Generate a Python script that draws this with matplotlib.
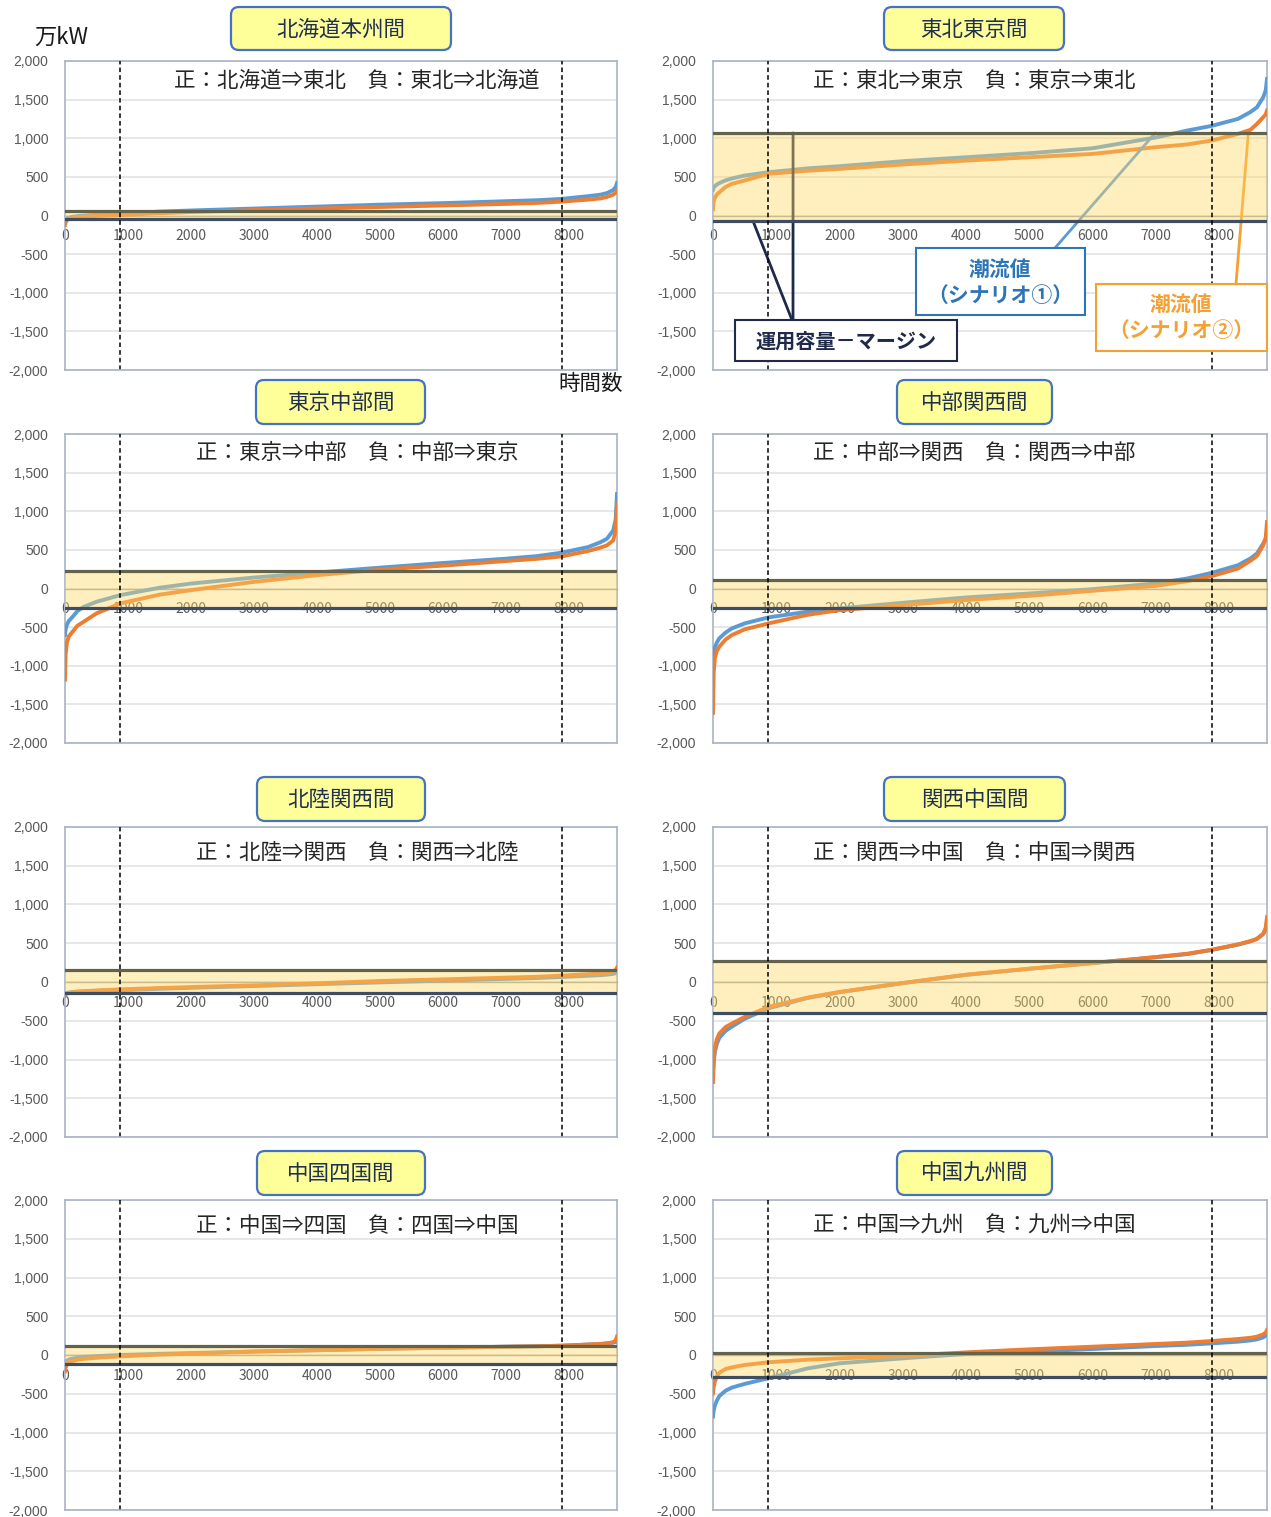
import matplotlib
matplotlib.use('Agg')
import matplotlib.pyplot as plt
from matplotlib.patches import FancyBboxPatch, Rectangle
from matplotlib.transforms import IdentityTransform

plt.rcParams['font.family'] = ['Noto Sans CJK JP', 'DejaVu Sans']

W, H = 1271, 1517

# ---------------- data ----------------
hours = [0, 10, 30, 60, 100, 200, 300, 500, 876, 1500, 2000, 3000, 4000, 5000, 6000, 7000,
         7500, 7884, 8300, 8500, 8600, 8700, 8740, 8760]

titles = ['北海道本州間', '東北東京間', '東京中部間', '中部関西間',
          '北陸関西間', '関西中国間', '中国四国間', '中国九州間']
directions = ['正：北海道⇒東北　負：東北⇒北海道',
              '正：東北⇒東京　負：東京⇒東北',
              '正：東京⇒中部　負：中部⇒東京',
              '正：中部⇒関西　負：関西⇒中部',
              '正：北陸⇒関西　負：関西⇒北陸',
              '正：関西⇒中国　負：中国⇒関西',
              '正：中国⇒四国　負：四国⇒中国',
              '正：中国⇒九州　負：九州⇒中国']

# scenario 1 (blue) and scenario 2 (orange) sorted flow duration curves, 万kW
s1_hokkaido = [-100, -70, -45, -30, -20, -8, 0, 10, 25, 50, 65, 90, 115, 140, 160, 185,
               198, 215, 250, 270, 290, 330, 370, 420]
s2_hokkaido = [-120, -85, -60, -45, -35, -22, -15, -5, 5, 30, 45, 70, 90, 110, 130, 150,
               163, 180, 205, 222, 240, 270, 295, 320]
s1_tohoku = [330, 360, 380, 400, 420, 455, 480, 517, 560, 610, 638, 703, 754, 806, 870, 1010,
             1100, 1160, 1250, 1340, 1400, 1530, 1620, 1767]
s2_tohoku = [80, 180, 230, 270, 300, 370, 410, 453, 539, 580, 603, 660, 711, 754, 797, 884,
             920, 970, 1056, 1110, 1185, 1272, 1310, 1358]
s1_tokyo = [-600, -530, -470, -420, -386, -290, -236, -172, -86, 10, 64, 142, 206, 270, 330, 386,
            420, 464, 536, 600, 644, 751, 900, 1223]
s2_tokyo = [-1180, -850, -700, -620, -580, -480, -429, -322, -193, -80, -21, 86, 172, 245, 296, 356,
            385, 416, 485, 530, 558, 622, 750, 1094]
s1_chubu = [-880, -820, -760, -700, -645, -570, -516, -452, -374, -300, -258, -185, -116, -65, -9, 65,
            130, 202, 301, 390, 452, 581, 640, 710]
s2_chubu = [-1610, -1100, -900, -810, -753, -660, -602, -529, -452, -340, -280, -215, -150, -95, -30, 34,
            95, 159, 258, 360, 421, 559, 660, 860]
s1_hokuriku = [-150, -146, -140, -135, -130, -124, -120, -113, -105, -88, -75, -52, -28, -5, 18, 40,
               52, 65, 80, 88, 95, 105, 115, 135]
s2_hokuriku = [-170, -160, -150, -142, -135, -125, -118, -110, -95, -78, -65, -43, -17, 13, 34, 56,
               68, 82, 100, 110, 120, 140, 155, 185]
s1_kansai = [-1200, -1050, -900, -800, -720, -630, -575, -475, -340, -205, -132, -15, 92, 170, 243, 320,
             360, 413, 482, 525, 555, 618, 680, 780]
s2_kansai = [-1290, -1000, -850, -740, -665, -580, -536, -451, -322, -200, -129, -13, 94, 172, 245, 322,
             365, 416, 485, 528, 558, 622, 700, 837]
s1_shikoku = [-110, -95, -75, -60, -50, -35, -25, -15, 0, 15, 25, 45, 62, 80, 93, 107,
              113, 120, 135, 142, 150, 160, 168, 180]
s2_shikoku = [-210, -160, -120, -95, -80, -62, -50, -36, -18, 5, 18, 44, 62, 80, 93, 107,
              113, 120, 135, 143, 150, 165, 190, 240]
s1_kyushu = [-794, -720, -650, -590, -530, -460, -420, -373, -300, -172, -107, -43, 13, 43, 77, 116,
             132, 150, 172, 188, 202, 227, 250, 279]
s2_kyushu = [-494, -420, -340, -280, -230, -180, -160, -129, -94, -60, -43, -13, 34, 73, 107, 142,
             160, 180, 206, 222, 236, 266, 290, 322]

scenario1 = [s1_hokkaido, s1_tohoku, s1_tokyo, s1_chubu, s1_hokuriku, s1_kansai, s1_shikoku, s1_kyushu]
scenario2 = [s2_hokkaido, s2_tohoku, s2_tokyo, s2_chubu, s2_hokuriku, s2_kansai, s2_shikoku, s2_kyushu]

# operating capacity minus margin (positive / negative direction)
cap_pos = [60, 1068, 232, 116, 151, 267, 121, 25]
cap_neg = [-40, -72, -250, -258, -138, -400, -120, -288]

pct10, pct90 = 876, 7884

yticks = [2000, 1500, 1000, 500, 0, -500, -1000, -1500, -2000]
ytick_labels = ['2,000', '1,500', '1,000', '500', '0', '-500', '-1,000', '-1,500', '-2,000']
xticks = [0, 1000, 2000, 3000, 4000, 5000, 6000, 7000, 8000]
xtick_labels = ['0', '1000', '2000', '3000', '4000', '5000', '6000', '7000', '8000']

# ---------------- layout ----------------
BLUE = '#5B9BD5'
ORANGE = '#ED7D31'
cols = [(65, 617), (713, 1267)]
rows = [(61, 370), (434, 743), (827, 1137), (1200, 1510)]
inner_x = [0.529, 0.471]
inner_y = [0.935, 0.937, 0.916, 0.916]
title_boxes = [(231, 451, 7, 50), (884, 1064, 7, 50),
               (256, 425, 380, 424), (897, 1052, 380, 424),
               (257, 425, 777, 821), (884, 1065, 777, 821),
               (257, 425, 1151, 1195), (897, 1052, 1151, 1195)]

fig = plt.figure(figsize=(W / 100, H / 100), dpi=100)
fig.patch.set_facecolor('white')

axes = []
for i in range(8):
    r, c = divmod(i, 2)
    x0, x1 = cols[c]
    y0, y1 = rows[r]
    ax = fig.add_axes([x0 / W, 1 - y1 / H, (x1 - x0) / W, (y1 - y0) / H])
    axes.append(ax)
    ax.set_xlim(0, 8760)
    ax.set_ylim(-2000, 2000)
    ax.set_yticks(yticks)
    ax.set_yticklabels(ytick_labels)
    ax.set_xticks(xticks)
    ax.set_xticklabels(xtick_labels)
    for lbl in ax.get_yticklabels() + ax.get_xticklabels():
        lbl.set_fontfamily('Liberation Sans')
    ax.tick_params(axis='y', length=0, pad=12, labelsize=10, labelcolor='#595959')
    ax.tick_params(axis='x', length=0, pad=10, labelsize=10, labelcolor='#595959')
    ax.grid(axis='y', color='#E3E3E3', lw=1.2, zorder=0.5)
    ax.set_axisbelow(True)
    for s in ['top', 'left', 'right']:
        ax.spines[s].set_color('#A7B3C5')
        ax.spines[s].set_linewidth(1.2)
    ax.spines['bottom'].set_position(('data', 0))
    ax.spines['bottom'].set_color('#A6A6A6')
    ax.spines['bottom'].set_linewidth(1.0)
    ax.axhline(-2000, color='#A7B3C5', lw=1.2, clip_on=False, zorder=6)

    ax.plot(hours, scenario1[i], color=BLUE, lw=2.8, zorder=3, solid_joinstyle='round')
    ax.plot(hours, scenario2[i], color=ORANGE, lw=2.8, zorder=3.2, solid_joinstyle='round')

    ax.axhspan(cap_neg[i], cap_pos[i], facecolor='#FFD966', alpha=0.42, lw=0, zorder=4)
    ax.axhline(cap_pos[i], color='#62634A', lw=2.3, zorder=4.5)
    ax.axhline(cap_neg[i], color='#3F4D63', lw=2.3, zorder=4.5)

    ax.axvline(pct10, color='black', lw=1.1, ls=(0, (3, 2)), zorder=5)
    ax.axvline(pct90, color='black', lw=1.1, ls=(0, (3, 2)), zorder=5)

    ax.text(inner_x[c], inner_y[r], directions[i], transform=ax.transAxes,
            ha='center', va='center', fontsize=15.5, color='#262626', zorder=7)

    bx0, bx1, by0, by1 = title_boxes[i]
    box = FancyBboxPatch((bx0, H - by1), bx1 - bx0, by1 - by0,
                         boxstyle='round,pad=0,rounding_size=8',
                         facecolor='#FFFF99', edgecolor='#4472C4', lw=1.6,
                         transform=IdentityTransform())
    fig.add_artist(box)
    fig.text((bx0 + bx1) / 2 / W, 1 - ((by0 + by1) / 2 + 1) / H, titles[i],
             ha='center', va='center', fontsize=15.5, color='#1F3050')

# unit labels
fig.text(61 / W, 1 - 37 / H, '万kW', ha='center', va='center', fontsize=16, color='#1A1A1A')
fig.text(591 / W, 1 - 384 / H, '時間数', ha='center', va='center', fontsize=15.5, color='#1A1A1A')

# ---------------- annotations on 東北東京間 ----------------
ax = axes[1]
NAVY = '#1F2A4A'
LBLUE = '#2E75B6'
LORANGE = '#F5A033'

def box_rect(x0f, y0f, wf, hf, ec):
    ax.add_patch(Rectangle((x0f, y0f), wf, hf, transform=ax.transAxes, facecolor='white',
                           edgecolor=ec, lw=1.5, zorder=8, clip_on=False))

# leader lines (under the band tint)
ax.annotate('', xy=(1266, cap_pos[1]), xycoords='data', xytext=(0.1444, 0.1618), textcoords='axes fraction',
            arrowprops=dict(arrowstyle='-', color=NAVY, lw=2.0, shrinkA=0, shrinkB=0), zorder=3.6)
ax.annotate('', xy=(633, cap_neg[1]), xycoords='data', xytext=(0.1426, 0.1618), textcoords='axes fraction',
            arrowprops=dict(arrowstyle='-', color=NAVY, lw=2.0, shrinkA=0, shrinkB=0), zorder=3.6)
ax.annotate('', xy=(6993, cap_pos[1]), xycoords='data', xytext=(0.6173, 0.3948), textcoords='axes fraction',
            arrowprops=dict(arrowstyle='-', color=BLUE, lw=2.0, shrinkA=0, shrinkB=0), zorder=3.6)
ax.annotate('', xy=(8465, cap_pos[1]), xycoords='data', xytext=(0.944, 0.2783), textcoords='axes fraction',
            arrowprops=dict(arrowstyle='-', color=LORANGE, lw=2.0, shrinkA=0, shrinkB=0), zorder=3.6)

box_rect(0.0397, 0.0291, 0.4007, 0.1327, NAVY)
ax.text(0.2401, 0.0939, '運用容量－マージン', transform=ax.transAxes, ha='center', va='center',
        fontsize=14.5, fontweight='bold', color=NAVY, zorder=9)

box_rect(0.3664, 0.178, 0.3051, 0.2168, LBLUE)
ax.text(0.518, 0.3269, '潮流値', transform=ax.transAxes, ha='center', va='center',
        fontsize=15, fontweight='bold', color=LBLUE, zorder=9)
ax.text(0.518, 0.2427, '（シナリオ①）', transform=ax.transAxes, ha='center', va='center',
        fontsize=15, fontweight='bold', color=LBLUE, zorder=9)

box_rect(0.6913, 0.0615, 0.3087, 0.2168, LORANGE)
ax.text(0.8448, 0.2136, '潮流値', transform=ax.transAxes, ha='center', va='center',
        fontsize=15, fontweight='bold', color=LORANGE, zorder=9)
ax.text(0.8448, 0.1294, '（シナリオ②）', transform=ax.transAxes, ha='center', va='center',
        fontsize=15, fontweight='bold', color=LORANGE, zorder=9)

fig.savefig('out.png', dpi=100, facecolor='white')
